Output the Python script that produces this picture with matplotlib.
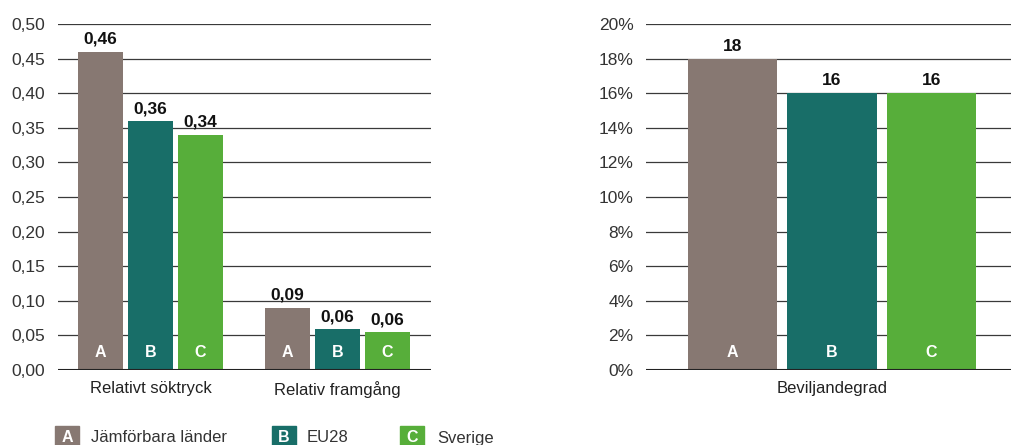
import matplotlib
matplotlib.use("Agg")
import matplotlib.pyplot as plt
from matplotlib.patches import Rectangle
import numpy as np

plt.rcParams['font.family'] = ['Liberation Sans', 'DejaVu Sans']

# ---- data ----
series_names = ["Jämförbara länder", "EU28", "Sverige"]
series_letters = ["A", "B", "C"]
colors = ["#877872", "#186E68", "#57AE3A"]

left_categories = ["Relativt söktryck", "Relativ framgång"]
left_values = [
    [0.46, 0.09],    # A
    [0.36, 0.059],   # B
    [0.34, 0.055],   # C
]
left_labels = [
    ["0,46", "0,09"],
    ["0,36", "0,06"],
    ["0,34", "0,06"],
]
left_ticks = [0.00, 0.05, 0.10, 0.15, 0.20, 0.25, 0.30, 0.35, 0.40, 0.45, 0.50]
left_ticklabels = ["0,00", "0,05", "0,10", "0,15", "0,20", "0,25", "0,30", "0,35", "0,40", "0,45", "0,50"]

right_category = "Beviljandegrad"
right_values = [18, 16, 16]
right_labels = ["18", "16", "16"]
right_ticks = [0, 2, 4, 6, 8, 10, 12, 14, 16, 18, 20]
right_ticklabels = ["0%", "2%", "4%", "6%", "8%", "10%", "12%", "14%", "16%", "18%", "20%"]

W, H = 1011, 445
fig = plt.figure(figsize=(W / 100, H / 100), dpi=100)

def px_axes(x0, y0, x1, y1):
    return fig.add_axes([x0 / W, 1 - y1 / H, (x1 - x0) / W, (y1 - y0) / H])

grid_col = "#3a3a3a"
tick_col = "#333333"

def style(ax):
    for s in ax.spines.values():
        s.set_visible(False)
    ax.tick_params(axis='both', length=0)
    ax.tick_params(axis='y', pad=9, labelsize=12.5, labelcolor=tick_col)
    ax.tick_params(axis='x', pad=8, labelsize=12, labelcolor="#222222")
    ax.set_axisbelow(True)
    ax.yaxis.grid(True, color=grid_col, linewidth=0.9)

# ---- left panel ----
ax1 = px_axes(58, 24, 431, 370)
style(ax1)
bw = 0.24
step = 0.267
xc = np.arange(len(left_categories))
for i in range(3):
    xs = xc + (i - 1) * step
    ax1.bar(xs, left_values[i], width=bw, color=colors[i], zorder=2)
    for x, v, lab in zip(xs, left_values[i], left_labels[i]):
        ax1.annotate(lab, (x, v), xytext=(0, 3.5), textcoords="offset points",
                     ha="center", va="bottom", fontsize=12.5, fontweight="bold", color="#111111")
        ax1.annotate(series_letters[i], (x, 0), xytext=(0, 7), textcoords="offset points",
                     ha="center", va="bottom", fontsize=11.5, fontweight="bold", color="white")
ax1.axhline(0, color="#222222", linewidth=1.5, zorder=3)
ax1.set_xlim(-0.495, 1.5)
ax1.set_ylim(0, 0.5)
ax1.set_yticks(left_ticks)
ax1.set_yticklabels(left_ticklabels)
ax1.set_xticks(xc)
ax1.set_xticklabels(left_categories)

# ---- right panel ----
ax2 = px_axes(646, 24, 1011, 370)
style(ax2)
xr = np.arange(3) - 1
for i in range(3):
    ax2.bar(xr[i], right_values[i], width=0.9, color=colors[i], zorder=2)
    ax2.annotate(right_labels[i], (xr[i], right_values[i]), xytext=(0, 3.5), textcoords="offset points",
                 ha="center", va="bottom", fontsize=12.5, fontweight="bold", color="#111111")
    ax2.annotate(series_letters[i], (xr[i], 0), xytext=(0, 7), textcoords="offset points",
                 ha="center", va="bottom", fontsize=11.5, fontweight="bold", color="white")
ax2.axhline(0, color="#222222", linewidth=1.5, zorder=3)
ax2.set_xlim(-1.87, 1.8)
ax2.set_ylim(0, 20)
ax2.set_yticks(right_ticks)
ax2.set_yticklabels(right_ticklabels)
ax2.set_xticks([0])
ax2.set_xticklabels([right_category])

# ---- legend ----
leg_x = [55, 272, 400]
text_x = [91, 307, 437]
for i in range(3):
    x0 = leg_x[i]
    fig.patches.append(Rectangle((x0 / W, 1 - 450 / H), 24 / W, 24 / H,
                                 transform=fig.transFigure, color=colors[i], zorder=5))
    fig.text((x0 + 12) / W, 1 - 438 / H, series_letters[i], ha="center", va="center",
             fontsize=11.5, fontweight="bold", color="white", zorder=6)
    fig.text(text_x[i] / W, 1 - 438 / H, series_names[i], ha="left", va="center",
             fontsize=12, color="#333333")

fig.savefig("out.png", dpi=100)
